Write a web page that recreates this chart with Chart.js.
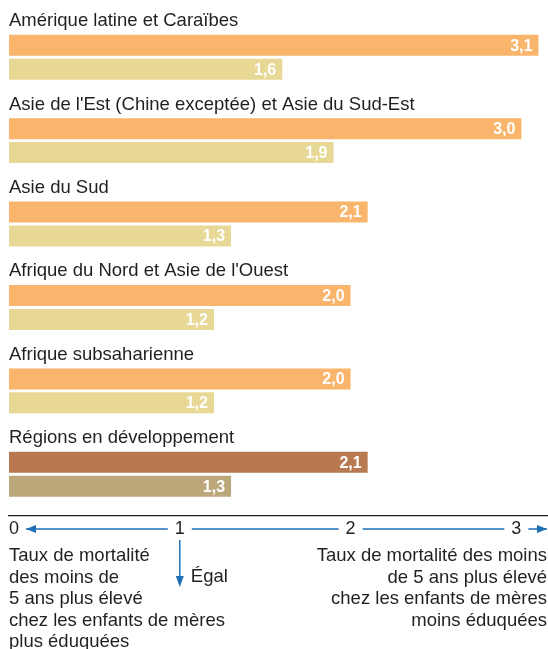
<!DOCTYPE html>
<html>
<head>
<meta charset="utf-8">
<script src="https://cdn.jsdelivr.net/npm/chart.js@4.4.0/dist/chart.umd.min.js"></script>
<style>
  body { margin: 0; background: #fff; }
  #wrap { width: 548px; height: 649px; position: relative; }
</style>
</head>
<body>
<div id="wrap"><canvas id="ratioChart"></canvas></div>
<script>
const regions = [
    "Amérique latine et Caraïbes",
    "Asie de l'Est (Chine exceptée) et Asie du Sud-Est",
    "Asie du Sud",
    "Afrique du Nord et Asie de l'Ouest",
    "Afrique subsaharienne",
    "Régions en développement"
];
// upper bar / lower bar of each group
const ratioUpper = [3.1, 3.0, 2.1, 2.0, 2.0, 2.1];
const ratioLower = [1.6, 1.9, 1.3, 1.2, 1.2, 1.3];
const xTicks = [0, 1, 2, 3];

const upperColors = ["#f9b56b","#f9b56b","#f9b56b","#f9b56b","#f9b56b","#b87850"];
const lowerColors = ["#e8d895","#e8d895","#e8d895","#e8d895","#e8d895","#bba77a"];

const FONT = "Liberation Sans, Arial, sans-serif";
const TEXT = "#231f20";
const BLUE = "#1f6fb4";

const leftNote = ["Taux de mortalité", "des moins de", "5 ans plus élevé", "chez les enfants de mères", "plus éduquées"];
const rightNote = ["Taux de mortalité des moins", "de 5 ans plus élevé", "chez les enfants de mères", "moins éduquées"];

function fmt(v) { return v.toFixed(1).replace(".", ","); }

function arrowHead(ctx, x, y, dir) {
    // dir: "left", "right", "down"
    ctx.beginPath();
    if (dir === "left") { ctx.moveTo(x, y); ctx.lineTo(x + 10, y - 4); ctx.lineTo(x + 10, y + 4); }
    if (dir === "right") { ctx.moveTo(x, y); ctx.lineTo(x - 10, y - 4); ctx.lineTo(x - 10, y + 4); }
    if (dir === "down") { ctx.moveTo(x, y); ctx.lineTo(x - 4, y - 11); ctx.lineTo(x + 4, y - 11); }
    ctx.closePath();
    ctx.fill();
}

const labelsPlugin = {
    id: "labelsPlugin",
    afterDatasetsDraw(chart) {
        const ctx = chart.ctx;
        const upper = chart.getDatasetMeta(0).data;
        const lower = chart.getDatasetMeta(1).data;
        ctx.save();
        // region names above each pair
        ctx.fillStyle = TEXT;
        ctx.font = "18.5px " + FONT;
        ctx.textAlign = "left";
        ctx.textBaseline = "alphabetic";
        upper.forEach((bar, i) => ctx.fillText(regions[i], 9, bar.y - 19));
        // values inside bar ends
        ctx.fillStyle = "#fff";
        ctx.font = "bold 16px " + FONT;
        ctx.textAlign = "right";
        ctx.textBaseline = "middle";
        upper.forEach((bar, i) => ctx.fillText(fmt(ratioUpper[i]), bar.x - 6, bar.y + 1));
        lower.forEach((bar, i) => ctx.fillText(fmt(ratioLower[i]), bar.x - 6, bar.y + 1));
        ctx.restore();
    },
    afterDraw(chart) {
        const ctx = chart.ctx;
        const xs = chart.scales.x;
        const y = 529;
        ctx.save();
        ctx.font = "18px " + FONT;
        const boxes = xTicks.map((v, i) => {
            const px = xs.getPixelForValue(v);
            const w = ctx.measureText(String(v)).width;
            if (i === 0) return [px, px + w];
            if (i === xTicks.length - 1) return [px - w, px];
            return [px - w / 2, px + w / 2];
        });
        ctx.strokeStyle = BLUE;
        ctx.fillStyle = BLUE;
        ctx.lineWidth = 1.5;
        for (let i = 0; i < boxes.length - 1; i++) {
            const a = boxes[i][1] + 7, b = boxes[i + 1][0] - 7;
            ctx.beginPath(); ctx.moveTo(a, y); ctx.lineTo(b, y); ctx.stroke();
            if (i === 0) arrowHead(ctx, a, y, "left");
        }
        const endA = boxes[boxes.length - 1][1] + 7;
        ctx.beginPath(); ctx.moveTo(endA, y); ctx.lineTo(547, y); ctx.stroke();
        arrowHead(ctx, 547, y, "right");

        // "Égal" arrow under 1
        const x1 = xs.getPixelForValue(1);
        ctx.beginPath(); ctx.moveTo(x1, 540); ctx.lineTo(x1, 580); ctx.stroke();
        arrowHead(ctx, x1, 587, "down");

        ctx.fillStyle = TEXT;
        ctx.font = "18.5px " + FONT;
        ctx.textBaseline = "alphabetic";
        ctx.textAlign = "left";
        ctx.fillText("Égal", x1 + 11, 582);
        leftNote.forEach((t, i) => ctx.fillText(t, 9, 561 + i * 21.6));
        ctx.textAlign = "right";
        rightNote.forEach((t, i) => ctx.fillText(t, 547, 561 + i * 21.6));
        ctx.restore();
    }
};

new Chart(document.getElementById("ratioChart"), {
    type: "bar",
    data: {
        labels: regions,
        datasets: [{
            label: "Rapport (barre supérieure)",
            data: ratioUpper,
            backgroundColor: upperColors,
            borderWidth: 0
        }, {
            label: "Rapport (barre inférieure)",
            data: ratioLower,
            backgroundColor: lowerColors,
            borderWidth: 0
        }]
    },
    options: {
        indexAxis: "y",
        responsive: true,
        maintainAspectRatio: false,
        animation: false,
        datasets: { bar: { categoryPercentage: 0.575, barPercentage: 0.875 } },
        layout: { padding: { top: 15.5, left: 9, right: 1, bottom: 0 } },
        plugins: { legend: { display: false }, tooltip: { enabled: false } },
        scales: {
            y: { display: false },
            x: {
                min: 0,
                max: 3.15,
                afterBuildTicks: s => { s.ticks = xTicks.map(v => ({ value: v })); },
                afterFit: s => { s.height = 133; },
                grid: { display: false, drawTicks: false },
                border: { display: true, color: TEXT, width: 1.2 },
                ticks: {
                    align: "inner",
                    padding: 2,
                    maxRotation: 0,
                    color: TEXT,
                    font: { family: FONT, size: 18 },
                    callback: v => String(v)
                }
            }
        }
    },
    plugins: [labelsPlugin]
});
</script>
</body>
</html>
